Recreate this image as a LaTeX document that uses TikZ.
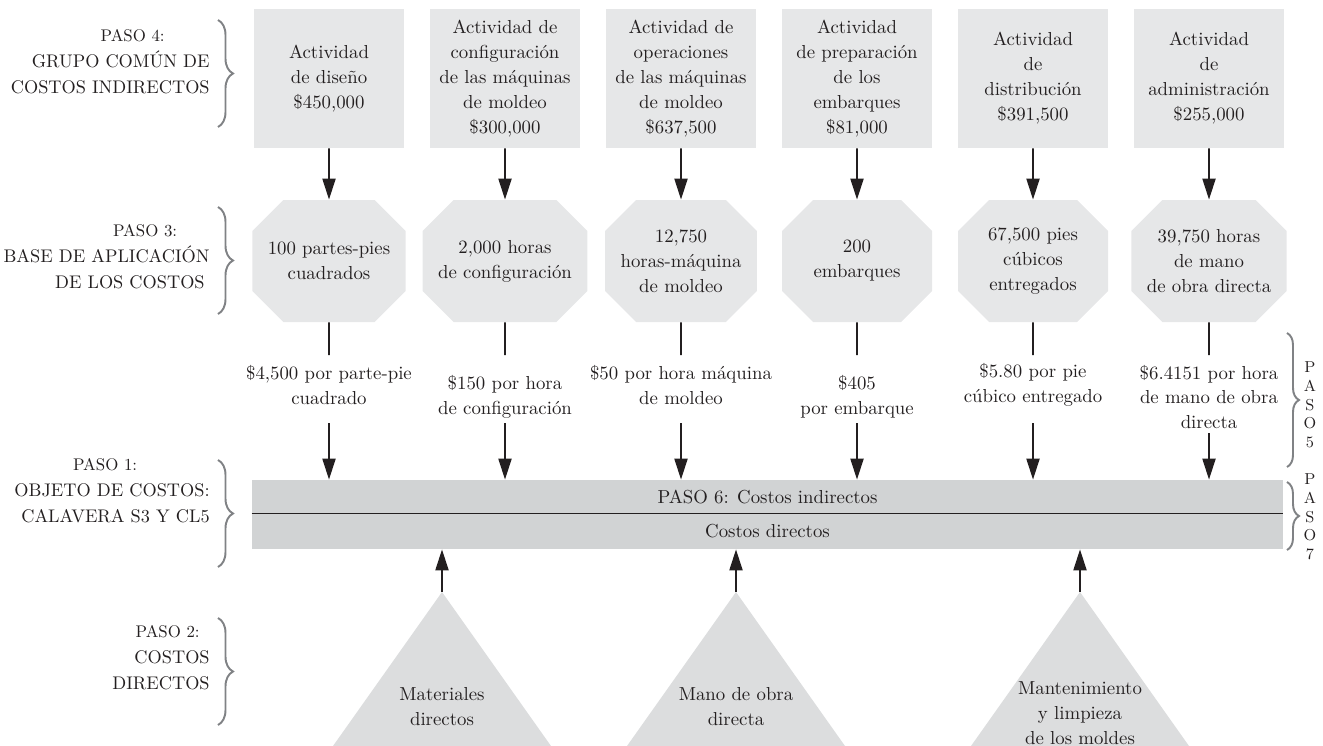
\documentclass[tikz,border=0pt]{standalone}
\usepackage{fontspec}
\usepackage{tikz}
\usetikzlibrary{arrows.meta,shapes.misc,positioning,decorations.pathreplacing,calc}
\definecolor{boxgray}{HTML}{E6E7E8}
\definecolor{bargray}{HTML}{D1D3D4}
\definecolor{trigray}{HTML}{DCDDDE}
\definecolor{bracegray}{HTML}{808285}
\definecolor{inkdark}{HTML}{231F20}

\begin{document}
\begin{tikzpicture}[
  every node/.style={font=\fontsize{10.7}{14.2}\selectfont, text=inkdark},
  actbox/.style={
    fill=boxgray,
    minimum width=30mm,
    minimum height=27.8mm,
    align=center,
    inner sep=0pt
  },
  basebox/.style={
    chamfered rectangle,
    chamfered rectangle xsep=3.1mm,
    chamfered rectangle ysep=3.1mm,
    fill=boxgray,
    minimum width=30mm,
    minimum height=24.4mm,
    align=center,
    inner sep=0pt
  },
  rate/.style={align=center, inner sep=0pt},
  costbar/.style={fill=bargray, minimum width=206.2mm, inner sep=0pt},
  paso/.style={align=right, anchor=east, inner sep=0pt, font=\fontsize{10.4}{14.8}\selectfont},
  pasoside/.style={align=center, inner sep=0pt, font=\fontsize{9}{10.6}\selectfont},
  grupo/.style={decorate, decoration={brace, amplitude=3mm}, draw=bracegray, line width=1.1pt},
  arrow/.style={
    -{Triangle[length=4.2mm,width=2.6mm]},
    line width=1.1pt,
    draw=inkdark
  },
  link/.style={line width=1.1pt, draw=inkdark}
]
\useasboundingbox (0,0) rectangle (26.46,-14.92);

% ------------------------------------------------
% Left step labels with braces
% ------------------------------------------------
\node[paso] (paso4) at (4.2,-1.24) {{\fontsize{9.6}{14.8}\selectfont PASO 4:}\hspace*{9mm}\\GRUPO COMÚN DE\hspace*{1mm}\\COSTOS INDIRECTOS};
\node[paso] (paso3) at (4.2,-5.14) {{\fontsize{9.6}{14.8}\selectfont PASO 3:}\hspace*{6.5mm}\\BASE DE APLICACIÓN\\DE LOS COSTOS\hspace*{1mm}};
\node[paso] (paso1) at (4.2,-9.82) {{\fontsize{9.6}{14.8}\selectfont PASO 1:}\hspace*{14.5mm}\\OBJETO DE COSTOS:\\CALAVERA S3 Y CL5};
\node[paso] (paso2) at (4.2,-13.16) {{\fontsize{9.6}{14.8}\selectfont PASO 2:}\hspace*{2mm}\\COSTOS\\DIRECTOS};

\draw[grupo] (4.36,-0.40) -- (4.36,-2.54);
\draw[grupo] (4.36,-4.14) -- (4.36,-6.28);
\draw[grupo] (4.36,-9.20) -- (4.36,-11.34);
\draw[grupo] (4.36,-12.36) -- (4.36,-14.50);

% ------------------------------------------------
% Step 4: indirect cost pools
% ------------------------------------------------
\node[actbox] (a1) at (6.58,-1.57) {Actividad\\de diseño\\\$450,000};
\node[actbox] (a2) at (10.10,-1.57) {Actividad de\\configuración\\de las máquinas\\de moldeo\\\$300,000};
\node[actbox] (a3) at (13.62,-1.57) {Actividad de\\operaciones\\de las máquinas\\de moldeo\\\$637,500};
\node[actbox] (a4) at (17.14,-1.57) {Actividad\\de preparación\\de los\\embarques\\\$81,000};
\node[actbox] (a5) at (20.66,-1.57) {Actividad\\de\\distribución\\\$391,500};
\node[actbox] (a6) at (24.18,-1.57) {Actividad\\de\\administración\\\$255,000};

% ------------------------------------------------
% Step 3: allocation bases
% ------------------------------------------------
\node[basebox] (b1) at (6.58,-5.22) {100 partes-pies\\cuadrados};
\node[basebox] (b2) at (10.10,-5.22) {2,000 horas\\de configuración};
\node[basebox] (b3) at (13.62,-5.22) {12,750\\horas-máquina\\de moldeo};
\node[basebox] (b4) at (17.14,-5.22) {200\\embarques};
\node[basebox] (b5) at (20.66,-5.22) {67,500 pies\\cúbicos\\entregados};
\node[basebox] (b6) at (24.18,-5.22) {39,750 horas\\de mano\\de obra directa};

\draw[arrow] (a1) -- (b1);
\draw[arrow] (a2) -- (b2);
\draw[arrow] (a3) -- (b3);
\draw[arrow] (a4) -- (b4);
\draw[arrow] (a5) -- (b5);
\draw[arrow] (a6) -- (b6);

% ------------------------------------------------
% Step 5: rates
% ------------------------------------------------
\node[rate] (r1) at (6.58,-7.70) {\$4,500 por parte-pie\\cuadrado};
\node[rate] (r2) at (10.10,-7.94) {\$150 por hora\\de configuración};
\node[rate] (r3) at (13.62,-7.70) {\$50 por hora máquina\\de moldeo};
\node[rate] (r4) at (17.14,-7.94) {\$405\\por embarque};
\node[rate] (r5) at (20.66,-7.70) {\$5.80 por pie\\cúbico entregado};
\node[rate] (r6) at (24.18,-7.94) {\$6.4151 por hora\\de mano de obra\\directa};

% line ends above / below the rate texts (hidden helpers)
\coordinate (u1) at (6.58,-7.10);  \coordinate (d1) at (6.58,-8.46);
\coordinate (u2) at (10.10,-7.10); \coordinate (d2) at (10.10,-8.46);
\coordinate (u3) at (13.62,-7.10); \coordinate (d3) at (13.62,-8.46);
\coordinate (u4) at (17.14,-7.10); \coordinate (d4) at (17.14,-8.46);
\coordinate (u5) at (20.66,-7.10); \coordinate (d5) at (20.66,-8.46);
\coordinate (u6) at (24.18,-7.10); \coordinate (d6) at (24.18,-8.66);

% ------------------------------------------------
% Steps 1, 6: cost object bar
% ------------------------------------------------
\node[costbar, minimum height=6.6mm] (ind) at (15.35,-9.93) {PASO 6: Costos indirectos};
\node[costbar, minimum height=7.2mm] (dir) at (15.35,-10.62) {Costos directos};
\draw[line width=0.6pt, draw=inkdark] (ind.south west) -- (ind.south east);

\draw[link] (b1) -- (u1);
\draw[link] (b2) -- (u2);
\draw[link] (b3) -- (u3);
\draw[link] (b4) -- (u4);
\draw[link] (b5) -- (u5);
\draw[link] (b6) -- (u6);

\draw[arrow] (d1) -- (d1 |- ind.north);
\draw[arrow] (d2) -- (d2 |- ind.north);
\draw[arrow] (d3) -- (d3 |- ind.north);
\draw[arrow] (d4) -- (d4 |- ind.north);
\draw[arrow] (d5) -- (d5 |- ind.north);
\draw[arrow] (d6) -- (d6 |- ind.north);

% ------------------------------------------------
% Step 2: direct costs (triangles)
% ------------------------------------------------
\coordinate (m1) at (8.84,-11.84);
\coordinate (m2) at (14.72,-11.84);
\coordinate (m3) at (21.60,-11.84);

\fill[trigray] (m1) -- ++(-2.18,-3.08) -- ++(4.36,0) -- cycle;
\fill[trigray] (m2) -- ++(-2.18,-3.08) -- ++(4.36,0) -- cycle;
\fill[trigray] (m3) -- ++(-2.18,-3.08) -- ++(4.36,0) -- cycle;

\node[rate] (t1) at (8.84,-14.13) {Materiales\\directos};
\node[rate] (t2) at (14.72,-14.13) {Mano de obra\\directa};
\node[rate] (t3) at (21.60,-14.26) {Mantenimiento\\y limpieza\\de los moldes};

\draw[arrow] (m1) -- (m1 |- dir.south);
\draw[arrow] (m2) -- (m2 |- dir.south);
\draw[arrow] (m3) -- (m3 |- dir.south);

% ------------------------------------------------
% Right step labels (5 and 7)
% ------------------------------------------------
\draw[grupo, decoration={brace, amplitude=2.4mm}] (25.74,-6.66) -- (25.74,-9.34);
\draw[grupo, decoration={brace, amplitude=2.4mm}] (25.74,-9.64) -- (25.74,-11.00);
\node[pasoside] (paso5) at (26.20,-8.10) {P\\A\\S\\O\\5};
\node[pasoside] (paso7) at (26.20,-10.34) {P\\A\\S\\O\\7};

\end{tikzpicture}
\end{document}
